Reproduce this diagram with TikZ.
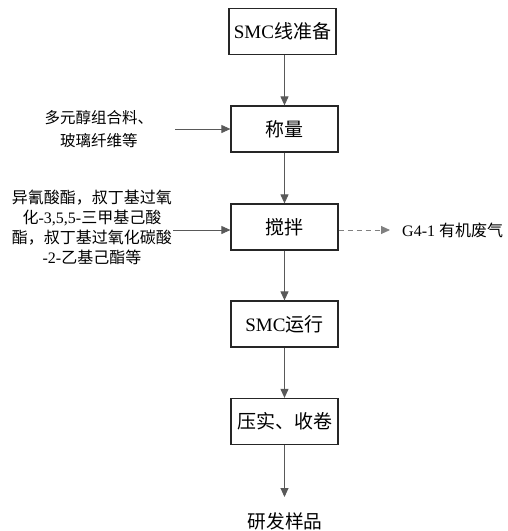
\documentclass[tikz,border=0pt]{standalone}
\usepackage{fontspec}
\setmainfont{Liberation Serif}
\newfontfamily\cjk{Noto Sans CJK SC}
\usetikzlibrary{arrows.meta}
\tikzset{
  procbox/.style={draw=black!85, line width=1.2pt, minimum width=107pt, minimum height=46pt, inner sep=0pt, font=\fontsize{19}{22}\selectfont},
  flow/.style={draw=black!65, line width=0.9pt, -{Triangle[length=9pt,width=8pt]}},
  dflow/.style={flow, dashed, dash pattern=on 5pt off 4pt, draw=black!50},
  sidetext/.style={align=center, inner sep=0pt, font=\cjk\fontsize{16}{20}\selectfont}
}
\begin{document}
\begin{tikzpicture}[x=1pt,y=-1pt]
\useasboundingbox (0,0) rectangle (507,531);
\node[procbox] (b1) at (282.5,31.5) {SMC{\cjk 线准备}};
\node[procbox] (b2) at (284.5,129) {\cjk 称量};
\node[procbox] (b3) at (284.5,227) {\cjk 搅拌};
\node[procbox] (b4) at (284.5,324) {SMC{\cjk 运行}};
\node[procbox] (b5) at (284.5,421.5) {\cjk 压实、收卷};
\node[inner sep=0pt, font=\cjk\fontsize{18.7}{20}\selectfont] (out) at (285,521) {研发样品};
\coordinate (outtip) at (284.5,497);

\node[sidetext, font=\cjk\fontsize{15.5}{23}\selectfont] (in1t) at (99,129.5) {多元醇组合料、\\玻璃纤维等};
\coordinate (in1) at (175,129);
\node[sidetext] (in2t) at (92,227) {异氰酸酯，叔丁基过氧\\化{\rmfamily -3,5,5-}三甲基己酸\\酯，叔丁基过氧化碳酸\\{\rmfamily -2-}乙基己酯等};
\coordinate (in2) at (173,230);
\coordinate (g) at (390,230);
\node[anchor=west, inner sep=0pt, font=\fontsize{16}{18}\selectfont] (gt) at (402,230) {G4-1 {\cjk 有机废气}};

\draw[flow] (b1.south -| b2) -- (b2);
\draw[flow] (b2) -- (b3);
\draw[flow] (b3) -- (b4);
\draw[flow] (b4) -- (b5);
\draw[flow] (b5) -- (outtip);
\draw[flow] (in1) -- (in1 -| b2.west);
\draw[flow] (in2) -- (in2 -| b3.west);
\draw[dflow] (g -| b3.east) -- (g);
\end{tikzpicture}
\end{document}
